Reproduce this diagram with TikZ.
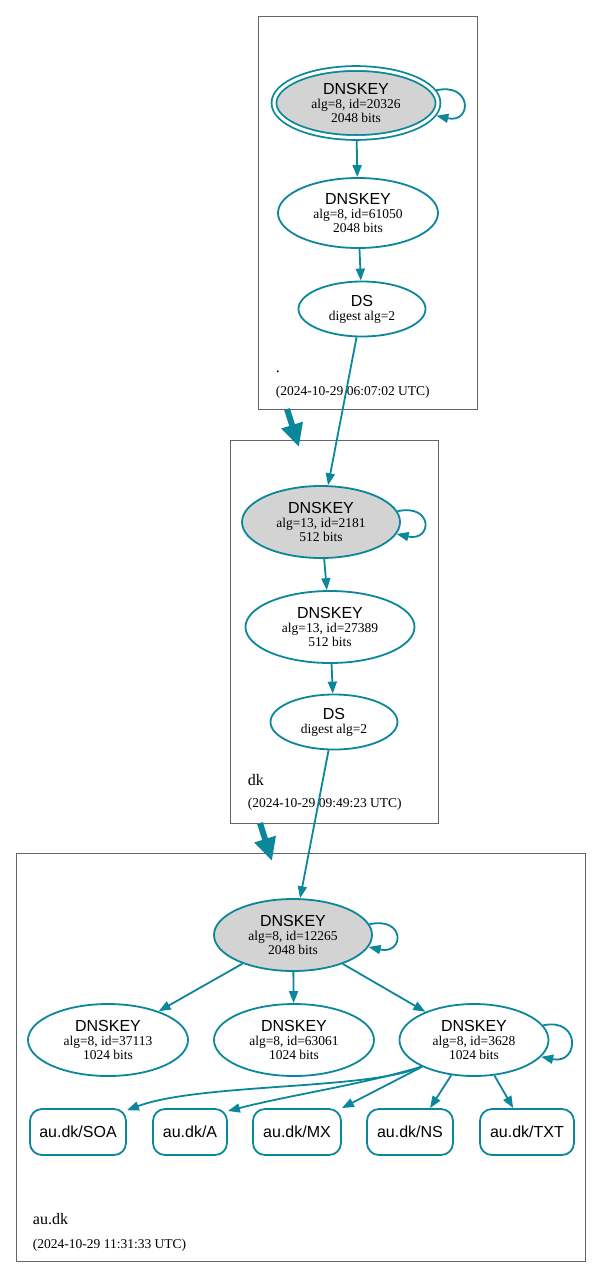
\documentclass[tikz,border=0pt]{standalone}
\usepackage{fontspec}
\setmainfont{Liberation Serif}
\setsansfont{Liberation Sans}
\usetikzlibrary{arrows.meta,shapes.geometric}
\definecolor{dnsedge}{HTML}{0A879A}
\definecolor{zoneline}{HTML}{666666}
\definecolor{keyfill}{HTML}{D3D3D3}
\newcommand{\keyname}[1]{{\fontsize{16}{17}\sffamily #1}}

\begin{document}
\begin{tikzpicture}[x=1pt,y=-1pt,line width=1.8pt,draw=dnsedge,
  -{Triangle[length=12pt,width=9pt]},
  key/.style={ellipse,draw=dnsedge,inner sep=0pt,align=center,minimum width=160pt,minimum height=72pt,
    font=\fontsize{13.5}{14}\selectfont},
  ksk/.style={key,fill=keyfill},
  dsbox/.style={key,minimum width=127pt,minimum height=55pt},
  rrset/.style={rectangle,rounded corners=12pt,draw=dnsedge,minimum height=46pt,inner sep=0pt,
    font=\fontsize{16}{17}\sffamily},
  zone/.style={rectangle,draw=zoneline,line width=1pt,inner sep=0pt},
  zname/.style={anchor=base west,inner sep=0pt,font=\fontsize{16}{17}\selectfont},
  zdate/.style={anchor=base west,inner sep=0pt,font=\fontsize{13.5}{14}\selectfont},
  zonearrow/.style={line width=6pt,-{Triangle[length=23pt,width=21pt]}}]
\useasboundingbox (0,0) rectangle (601,1278);

\node[zone,minimum width=219pt,minimum height=393pt](zroot) at (367.5,212.5) {};
\node[zone,minimum width=208pt,minimum height=383pt](zdk) at (334,631.5) {};
\node[zone,minimum width=569pt,minimum height=408pt](zau) at (300.5,1057) {};

\node[ksk,double=white,double distance=3pt,outer sep=3.3pt,minimum width=164pt,minimum height=69pt](rootksk) at (356,103) {\keyname{DNSKEY}\\alg=8, id=20326\\2048 bits};
\node[key,minimum width=160pt,minimum height=70pt](rootzsk) at (358,213) {\keyname{DNSKEY}\\alg=8, id=61050\\2048 bits};
\node[dsbox](rootds) at (362,309) {\keyname{DS}\\digest alg=2};
\node[zname](rootname) at (275,372) {.};
\node[zdate](rootdate) at (275,395.5) {(2024-10-29 06:07:02 UTC)};

\node[ksk,minimum width=158pt](dkksk) at (321,522) {\keyname{DNSKEY}\\alg=13, id=2181\\512 bits};
\node[key,minimum width=169pt](dkzsk) at (330,627) {\keyname{DNSKEY}\\alg=13, id=27389\\512 bits};
\node[dsbox](dkds) at (334,722) {\keyname{DS}\\digest alg=2};
\node[zname](dkname) at (247,785) {dk};
\node[zdate](dkdate) at (247,807.5) {(2024-10-29 09:49:23 UTC)};

\node[ksk,minimum width=158pt](auksk) at (293,935) {\keyname{DNSKEY}\\alg=8, id=12265\\2048 bits};
\node[key](auzsk1) at (108,1040) {\keyname{DNSKEY}\\alg=8, id=37113\\1024 bits};
\node[key](auzsk2) at (294,1040) {\keyname{DNSKEY}\\alg=8, id=63061\\1024 bits};
\node[key,minimum width=149pt](auzsk3) at (474,1040) {\keyname{DNSKEY}\\alg=8, id=3628\\1024 bits};
\node[rrset,minimum width=96pt](soa) at (78,1132) {au.dk/SOA};
\node[rrset,minimum width=74pt](a) at (190,1132) {au.dk/A};
\node[rrset,minimum width=88pt](mx) at (297,1132) {au.dk/MX};
\node[rrset,minimum width=86pt](ns) at (410,1132) {au.dk/NS};
\node[rrset,minimum width=94pt](txt) at (527,1132) {au.dk/TXT};
\node[zname](auname) at (32,1224) {au.dk};
\node[zdate](audate) at (32,1248.5) {(2024-10-29 11:31:33 UTC)};

\coordinate (rootout) at (287,409);
\coordinate (dkin) at (299,447);
\coordinate (dkout) at (260,823);
\coordinate (auin) at (272,861);
\draw[zonearrow] (rootout) -- (dkin);
\draw[zonearrow] (dkout) -- (auin);

\draw (rootksk.9) .. controls +(36,-8) and +(36,8) .. (rootksk.-9);
\draw (rootksk) -- (rootzsk);
\draw (rootzsk) -- (rootds);
\draw (rootds) -- (dkksk);
\draw (dkksk.8) .. controls +(36,-8) and +(36,8) .. (dkksk.-9);
\draw (dkksk) -- (dkzsk);
\draw (dkzsk) -- (dkds);
\draw (dkds) -- (auksk);
\draw (auksk.8) .. controls +(36,-8) and +(36,8) .. (auksk.-9);
\draw (auksk) -- (auzsk1);
\draw (auksk) -- (auzsk2);
\draw (auksk) -- (auzsk3);
\draw (auzsk3.12) .. controls +(38,-8) and +(38,8) .. (auzsk3.-14);
\draw (auzsk3.207) .. controls (370,1090) and (200,1083) .. (soa.24);
\draw (auzsk3.207) .. controls (360,1085) and (290,1095) .. (a.29);
\draw (auzsk3) -- (mx.north east);
\draw (auzsk3) -- (ns.50);
\draw (auzsk3) -- (txt.120);
\end{tikzpicture}
\end{document}
